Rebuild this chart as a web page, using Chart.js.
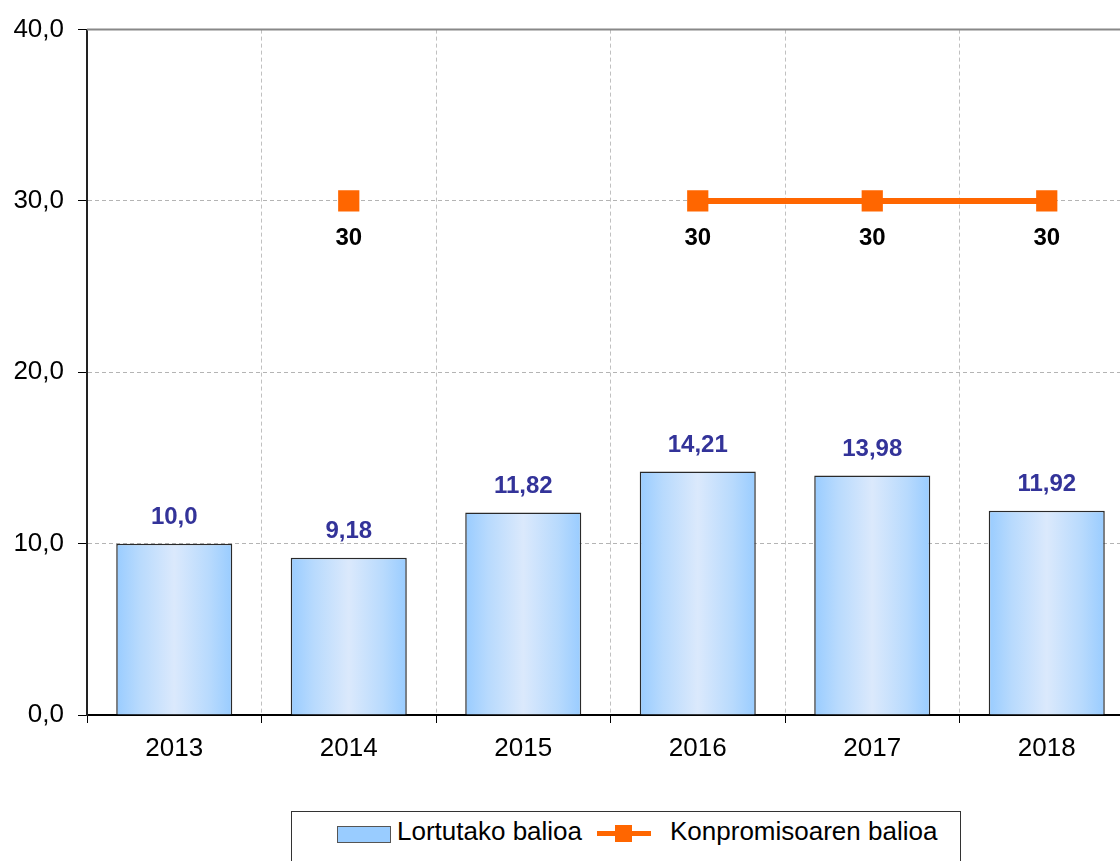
<!DOCTYPE html>
<html>
<head>
<meta charset="utf-8">
<script src="https://cdn.jsdelivr.net/npm/chart.js@4/dist/chart.umd.min.js"></script>
<style>
    html, body { margin: 0; padding: 0; background: #fff; overflow: hidden; width: 1120px; height: 861px; }
    #wrap { position: relative; width: 1134px; height: 861px; }
    #chart { position: absolute; left: 0; top: 0; width: 1134px; height: 800px; }
    .legend {
        position: absolute; left: 291px; top: 811px; width: 670px; height: 70px;
        border: 1px solid #333; box-sizing: border-box;
        font-family: "Liberation Sans", Arial, sans-serif; font-size: 26px; color: #000;
    }
    .legend__item { position: absolute; top: 4px; line-height: 30px; white-space: nowrap; }
    .legend__swatch { position: absolute; left: 45px; top: 14px; width: 52px; height: 15px; background: #99ccff; border: 1px solid #555; }
    .legend__line { position: absolute; left: 305px; top: 19px; width: 54px; height: 5px; background: #ff6600; }
    .legend__marker { position: absolute; left: 323px; top: 13px; width: 17px; height: 17px; background: #ff6600; }
</style>
</head>
<body>
<div id="wrap">
    <canvas id="chart" width="1134" height="800"></canvas>
    <div class="legend">
        <div class="legend__swatch"></div>
        <div class="legend__item" style="left: 105px;">Lortutako balioa</div>
        <div class="legend__line"></div>
        <div class="legend__marker"></div>
        <div class="legend__item" style="left: 378px;">Konpromisoaren balioa</div>
    </div>
</div>
<script>
    const years = ['2013', '2014', '2015', '2016', '2017', '2018'];
    const achievedValues = [10.0, 9.18, 11.82, 14.21, 13.98, 11.92];
    const achievedLabels = ['10,0', '9,18', '11,82', '14,21', '13,98', '11,92'];
    const targetValues = [null, 30, null, 30, 30, 30];
    const yTicks = [0, 10, 20, 30, 40];

    const FONT = '"Liberation Sans", Arial, sans-serif';
    const BAR_PCT = 0.665;

    function barGradient(c) {
        const chart = c.chart;
        const x = chart.scales && chart.scales.x;
        if (!chart.chartArea || !x || c.dataIndex == null) return '#99ccff';
        const cx = x.getPixelForValue(c.dataIndex);
        const w = (x.width / years.length) * BAR_PCT;
        const g = chart.ctx.createLinearGradient(cx - w / 2, 0, cx + w / 2, 0);
        g.addColorStop(0, '#99ccff');
        g.addColorStop(0.2, '#b8dafd');
        g.addColorStop(0.5, '#dbe9fc');
        g.addColorStop(0.8, '#b8dafd');
        g.addColorStop(1, '#99ccff');
        return g;
    }

    const valueLabels = {
        id: 'valueLabels',
        afterDraw(chart) {
            const ctx = chart.ctx;
            const area = chart.chartArea;
            ctx.save();
            // top frame line at 40
            ctx.strokeStyle = '#888';
            ctx.lineWidth = 2;
            ctx.beginPath();
            ctx.moveTo(area.left, area.top);
            ctx.lineTo(area.right, area.top);
            ctx.stroke();

            ctx.textAlign = 'center';
            ctx.textBaseline = 'middle';
            ctx.font = 'bold 24px ' + FONT;
            chart.getDatasetMeta(1).data.forEach((bar, i) => {
                ctx.fillStyle = '#333399';
                ctx.fillText(achievedLabels[i], bar.x, bar.y - 26);
            });
            chart.getDatasetMeta(0).data.forEach((pt, i) => {
                if (targetValues[i] == null) return;
                ctx.fillStyle = '#000';
                ctx.fillText(String(targetValues[i]), pt.x, pt.y + 37);
            });
            ctx.restore();
        }
    };

    new Chart(document.getElementById('chart'), {
        data: {
            labels: years,
            datasets: [{
                type: 'line',
                label: 'Konpromisoaren balioa',
                data: targetValues,
                order: 0,
                spanGaps: false,
                borderColor: '#ff6600',
                borderWidth: 6,
                pointStyle: 'rect',
                pointRadius: 15,
                pointHoverRadius: 15,
                pointBackgroundColor: '#ff6600',
                pointBorderWidth: 0
            }, {
                type: 'bar',
                label: 'Lortutako balioa',
                data: achievedValues,
                order: 1,
                backgroundColor: barGradient,
                borderColor: '#2a2a2a',
                borderWidth: 1.5,
                categoryPercentage: 1,
                barPercentage: BAR_PCT
            }]
        },
        options: {
            responsive: false,
            animation: false,
            layout: { autoPadding: false, padding: { top: 27, left: 0, right: 0, bottom: 0 } },
            plugins: { legend: { display: false }, tooltip: { enabled: false } },
            scales: {
                x: {
                    offset: true,
                    afterFit: s => { s.height = 85; },
                    grid: {
                        offset: true,
                        color: '#c0c0c0',
                        tickColor: '#000',
                        tickLength: 8
                    },
                    border: { color: '#000', width: 2, dash: [4, 3] },
                    ticks: { color: '#000', padding: 10, font: { family: FONT, size: 26 } }
                },
                y: {
                    min: 0,
                    max: 40,
                    afterFit: s => { s.width = 87; },
                    afterBuildTicks: s => { s.ticks = yTicks.map(v => ({ value: v })); },
                    grid: {
                        color: c => (c.tick && c.tick.value === 40) ? 'rgba(0,0,0,0)' : '#b4b4b4',
                        tickColor: '#000',
                        tickLength: 9
                    },
                    border: { color: '#222', width: 2, dash: [4, 3] },
                    ticks: {
                        color: '#000',
                        padding: 14,
                        font: { family: FONT, size: 26 },
                        callback: v => Number(v).toFixed(1).replace('.', ',')
                    }
                }
            }
        },
        plugins: [valueLabels]
    });
</script>
</body>
</html>
